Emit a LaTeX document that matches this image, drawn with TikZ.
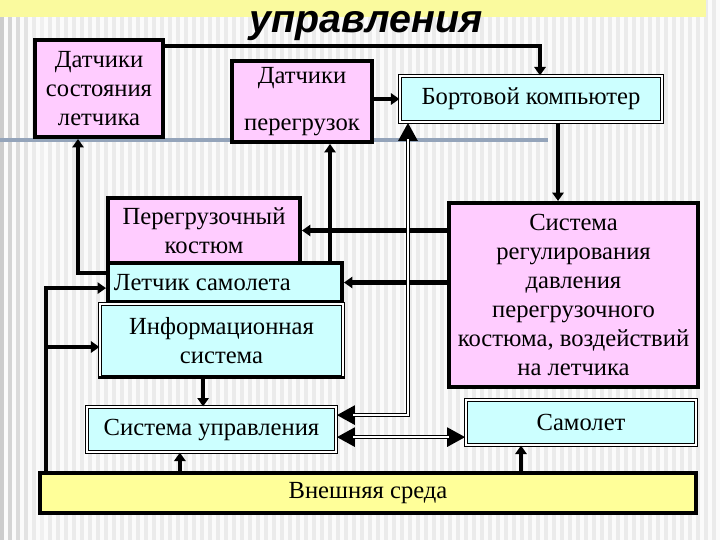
\documentclass[tikz,border=0pt]{standalone}
\usepackage{fontspec}
\setmainfont{Liberation Serif}
\newfontfamily\titlefont{Liberation Sans}
\usetikzlibrary{arrows.meta}
\definecolor{pinkfill}{HTML}{FFCCFF}
\definecolor{cyanfill}{HTML}{CCFFFF}
\definecolor{envfill}{HTML}{FFFF99}
\definecolor{bandfill}{HTML}{FAFA9E}
\definecolor{stripe}{HTML}{EBEBEB}
\definecolor{rulecol}{HTML}{94A4BA}
\newcommand{\boxfont}{\fontsize{17.5pt}{20.5pt}\selectfont}

\begin{document}
\begin{tikzpicture}[x=0.025cm,y=-0.025cm,
  every node/.style={font=\boxfont,inner sep=1pt,align=center},
  thickbox/.style={draw,line width=2.8pt},
  dblbox/.style={draw,double,line width=0.8pt,double distance=1.6pt},
  conn/.style={line width=2.9pt,-{Triangle[length=6pt,width=8pt]}},
  dtip/.style={line width=3.3pt,{Triangle[length=13pt,width=13pt]}-{Triangle[length=13pt,width=13pt]}},
  dline/.style={double,line width=0.9pt,double distance=1.5pt,shorten <=12pt,shorten >=12pt}]
	\useasboundingbox (0,0) rectangle (720,540);
	% slide background
	\fill[white!97!gray] (0,0) rectangle (720,540);
	\foreach \i in {0,...,89}
		\fill[stripe] (\i*8,0) rectangle (\i*8+4,540);
	\foreach \i/\c in {0/40,1/34,2/28,3/22,4/16,5/12}
		\fill[gray!\c] (\i*8,0) rectangle (\i*8+4,540);
	\fill[bandfill] (0,0) rectangle (706,17);
	\draw[rulecol,line width=3pt] (0,140) -- (548,140);
	\node[font=\titlefont\bfseries\itshape\fontsize{28pt}{30pt}\selectfont,anchor=base] (title) at (366,32) {управления};
	% blocks
	\node[thickbox,fill=pinkfill,minimum width=3.2cm,minimum height=2.425cm] (sens) at (99,88.5) {Датчики\\состояния\\летчика};
	\node[thickbox,fill=pinkfill,minimum width=3.5cm,minimum height=2.025cm] (gsens) at (302,101.5) {Датчики\\[13pt]перегрузок};
	\node[dblbox,fill=cyanfill,minimum width=6.55cm,minimum height=1.15cm] (comp) at (531,99) {Бортовой компьютер};
	\node[thickbox,fill=pinkfill,minimum width=4.8cm,minimum height=1.625cm] (suit) at (204,230.5) {Перегрузочный\\костюм};
	\node[thickbox,fill=cyanfill,minimum width=5.85cm,minimum height=0.975cm] (pilot) at (225,282.5) {\makebox[5.55cm][l]{Летчик самолета}};
	\node[dblbox,fill=cyanfill,minimum width=6.075cm,minimum height=1.825cm] (info) at (221.5,340.5) {Информационная\\система};
	\draw[line width=2.5pt] (info.south west) -- (info.south east);
	\node[thickbox,fill=pinkfill,minimum width=6.225cm,minimum height=4.6cm] (reg) at (573.5,295) {Система\\регулирования\\давления\\перегрузочного\\костюма, воздействий\\на летчика};
	\node[dblbox,fill=cyanfill,minimum width=6.225cm,minimum height=1.125cm] (ctrl) at (211.5,429.5) {Система управления};
	\node[dblbox,fill=cyanfill,minimum width=5.75cm,minimum height=1.125cm] (plane) at (581,422.5) {Самолет};
	\node[thickbox,fill=envfill,minimum width=16.4cm,minimum height=1cm] (env) at (368,493) {Внешняя среда};
	% connections
	\draw[conn] ([yshift=-0.2cm]sens.north east) -| ([xshift=0.225cm]comp.north);
	\draw[conn] (gsens.east |- comp.west) -- (comp.west);
	\draw[conn] ([xshift=0.675cm]comp.south) -- ([xshift=0.675cm]comp.south |- reg.north);
	\draw[conn] (reg.west |- suit.east) -- (suit.east);
	\draw[conn] (reg.west |- pilot.east) -- (pilot.east);
	\draw[conn] ([xshift=0.7cm]gsens.south |- pilot.north) -- ([xshift=0.7cm]gsens.south);
	\draw[conn] ([yshift=0.24cm]pilot.west) -| ([xshift=-0.525cm]sens.south);
	\coordinate (bus) at ([xshift=0.2cm]env.north west);
	\coordinate (busj) at (bus |- 0,347);
	\draw[conn] (bus) |- ([yshift=-0.14cm]pilot.west);
	\draw[conn] (busj) -- (busj -| info.west);
	\draw[conn] ([xshift=-0.46cm]info.south) -- ([xshift=-0.46cm]info.south |- ctrl.north);
	\draw[conn] ([xshift=-0.79cm]ctrl.south |- env.north) -- ([xshift=-0.79cm]ctrl.south);
	\draw[conn] ([xshift=-1.5cm]plane.south |- env.north) -- ([xshift=-1.5cm]plane.south);
	% double links
	\draw[dtip] ([yshift=0.36cm]ctrl.east) -| ([xshift=-3.075cm]comp.south);
	\draw[dline] ([yshift=0.36cm]ctrl.east) -| ([xshift=-3.075cm]comp.south);
	\draw[dtip] ([yshift=-0.19cm]ctrl.east) -- ([yshift=-0.19cm]ctrl.east -| plane.west);
	\draw[dline] ([yshift=-0.19cm]ctrl.east) -- ([yshift=-0.19cm]ctrl.east -| plane.west);
\end{tikzpicture}
\end{document}
